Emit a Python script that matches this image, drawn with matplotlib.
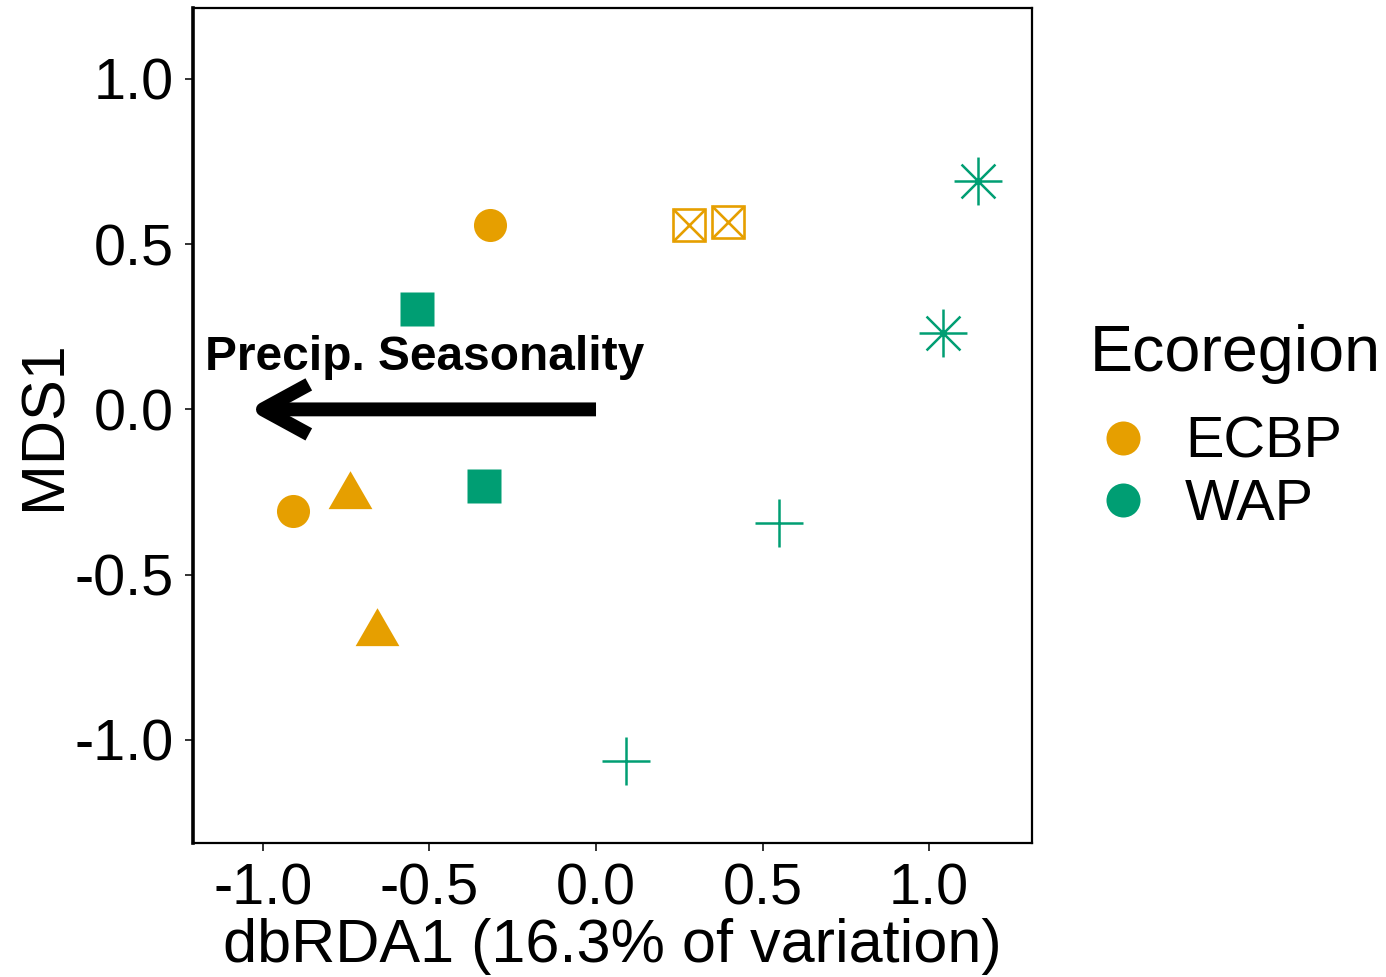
import matplotlib
matplotlib.use("Agg")
import matplotlib.pyplot as plt
from matplotlib.path import Path
from matplotlib.patches import FancyArrowPatch, ArrowStyle
from matplotlib.lines import Line2D
import numpy as np

plt.rcParams['font.family'] = ['Liberation Sans', 'DejaVu Sans']

# ---------------- data ----------------
ecoregions = ["ECBP", "WAP"]
eco_colors = {"ECBP": "#E69F00", "WAP": "#009E73"}

# ECBP groups
ecbp_circle_x = [-0.319, -0.911]
ecbp_circle_y = [0.558, -0.307]
ecbp_triangle_x = [-0.739, -0.658]
ecbp_triangle_y = [-0.263, -0.677]
ecbp_boxx_x = [0.279, 0.396]
ecbp_boxx_y = [0.558, 0.566]

# WAP groups
wap_square_x = [-0.536, -0.335]
wap_square_y = [0.304, -0.231]
wap_asterisk_x = [1.147, 1.042]
wap_asterisk_y = [0.691, 0.231]
wap_plus_x = [0.550, 0.090]
wap_plus_y = [-0.343, -1.063]

# environmental vector
arrow_start = (0.0, 0.0)
arrow_end = (-1.0, 0.0)
arrow_label = "Precip. Seasonality"
arrow_label_pos = (-0.5135, 0.1195)

x_ticks = [-1.0, -0.5, 0.0, 0.5, 1.0]
y_ticks = [-1.0, -0.5, 0.0, 0.5, 1.0]
x_label = "dbRDA1 (16.3% of variation)"
y_label = "MDS1"
legend_title = "Ecoregion"

# ---------------- figure ----------------
W, H = 1386, 977
DPI = 100
fig = plt.figure(figsize=(W / DPI, H / DPI), dpi=DPI)
ax = fig.add_axes([193 / W, 1 - 843 / H, (1032 - 193) / W, (843 - 7.5) / H])
ax.set_xlim(-1.21, 1.309)
ax.set_ylim(-1.312, 1.216)

# custom markers
tri_path = Path([(0, 1), (-0.866, -0.5), (0.866, -0.5), (0, 1)],
                [Path.MOVETO, Path.LINETO, Path.LINETO, Path.CLOSEPOLY])
ang = np.deg2rad(np.arange(0, 180, 45))
ast_verts, ast_codes = [], []
for a in ang:
    ast_verts += [(np.cos(a), np.sin(a)), (-np.cos(a), -np.sin(a))]
    ast_codes += [Path.MOVETO, Path.LINETO]
ast_path = Path(ast_verts, ast_codes)

c1, c2 = eco_colors["ECBP"], eco_colors["WAP"]

ax.plot(ecbp_circle_x, ecbp_circle_y, ls='none', marker='o', ms=23.8,
        mfc=c1, mec='none', zorder=3)
ax.plot(ecbp_triangle_x, ecbp_triangle_y, ls='none', marker=tri_path, ms=36.4,
        mfc=c1, mec='none', zorder=3)
ax.plot(ecbp_boxx_x, ecbp_boxx_y, ls='none', marker='s', ms=22.7,
        mfc='none', mec=c1, mew=1.9, zorder=3)
ax.plot(ecbp_boxx_x, ecbp_boxx_y, ls='none', marker='x', ms=22.7,
        mec=c1, mew=1.9, zorder=3)

ax.plot(wap_square_x, wap_square_y, ls='none', marker='s', ms=23.8,
        mfc=c2, mec='none', zorder=3)
ax.plot(wap_asterisk_x, wap_asterisk_y, ls='none', marker=ast_path, ms=34.5,
        mfc='none', mec=c2, mew=1.8, zorder=3)
ax.plot(wap_plus_x, wap_plus_y, ls='none', marker='+', ms=35,
        mec=c2, mew=1.8, zorder=3)

# arrow: matplotlib pulls the head vertex back by lw/(2 sin t);
# push the end point out by the same amount so the vertex sits on arrow_end
arrow_lw = 10.0          # points
head_len, head_wid = 33.0, 18.0   # points
sin_t = head_wid / np.hypot(head_len, head_wid)
pad_px = 0.5 * arrow_lw * DPI / 72 / sin_t
p0 = ax.transData.transform(arrow_start)
p1 = ax.transData.transform(arrow_end)
d = (p1 - p0) / np.hypot(*(p1 - p0))
end_adj = ax.transData.inverted().transform(p1 + d * pad_px)
arr = FancyArrowPatch(posA=arrow_start, posB=tuple(end_adj),
                      arrowstyle=ArrowStyle('->', head_length=head_len, head_width=head_wid),
                      mutation_scale=1, lw=arrow_lw, color='black',
                      shrinkA=0, shrinkB=0, joinstyle='round', capstyle='butt',
                      zorder=4)
ax.add_patch(arr)
ax.text(arrow_label_pos[0], arrow_label_pos[1], arrow_label, fontsize=34.5,
        fontweight='bold', ha='center', va='baseline', zorder=5)

# axes styling
ax.set_xticks(x_ticks)
ax.set_yticks(y_ticks)
ax.set_xticklabels([f"{t:.1f}" for t in x_ticks])
ax.set_yticklabels([f"{t:.1f}" for t in y_ticks])
ax.tick_params(axis='both', labelsize=41.5, length=5.8, width=1.4,
               color='#333333', labelcolor='black', pad=8)
for side in ['top', 'right', 'bottom']:
    ax.spines[side].set_linewidth(1.6)
ax.spines['left'].set_linewidth(2.6)

ax.set_xlabel(x_label, fontsize=44)
ax.xaxis.label.set_va('baseline')
ax.xaxis.set_label_coords(612 / W, 1 - 962 / H, transform=fig.transFigure)
ax.set_ylabel(y_label, fontsize=44)
ax.yaxis.label.set_va('baseline')
ax.yaxis.set_label_coords(60 / W, 1 - 425 / H, transform=fig.transFigure)

# legend (manual)
fig.text(1090 / W, 1 - 371 / H, legend_title, fontsize=46.5, ha='left', va='baseline')
leg_marker_y = [438, 500]
leg_text_y = [458, 520]
for eco, my, ty in zip(ecoregions, leg_marker_y, leg_text_y):
    fig.add_artist(Line2D([1123 / W], [1 - my / H], transform=fig.transFigure,
                          ls='none', marker='o', ms=24.5, mfc=eco_colors[eco], mec='none'))
    fig.text(1185 / W, 1 - ty / H, eco, fontsize=41.5, ha='left', va='baseline')

fig.savefig("out.png", dpi=DPI)
